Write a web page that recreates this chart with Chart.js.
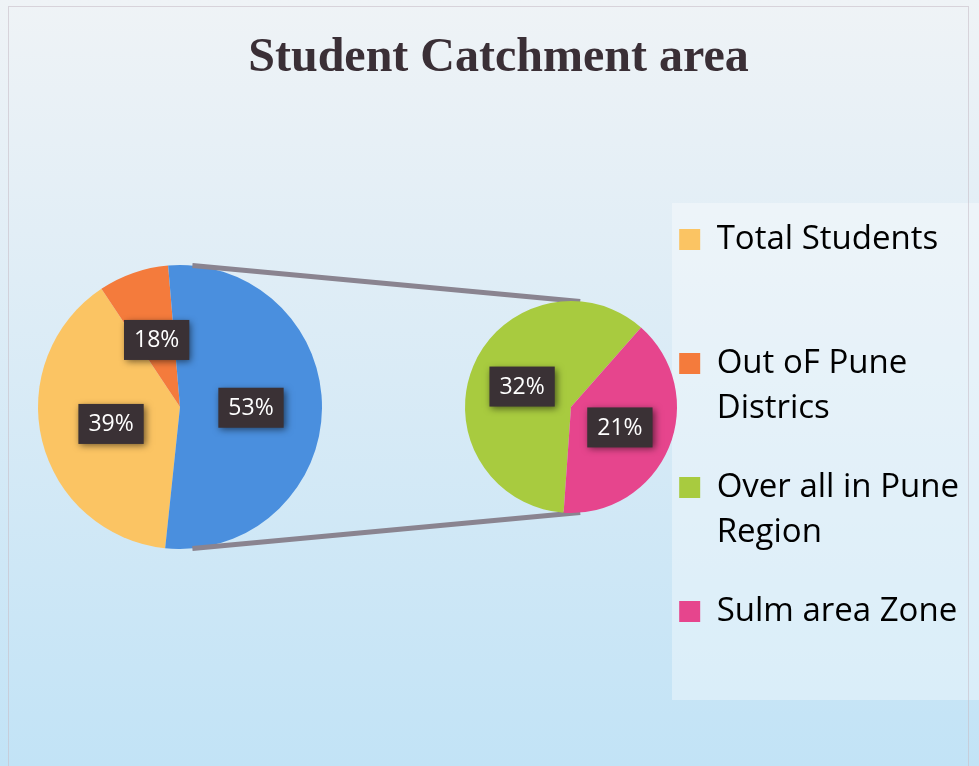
<!DOCTYPE html>
<html><head><meta charset="utf-8">
<script src="https://cdn.jsdelivr.net/npm/chart.js@4.4.1/dist/chart.umd.min.js"></script>
<style>
html,body{margin:0;padding:0;background:#fff;overflow:hidden}
#wrap{position:relative;width:979px;height:766px}
#wrap canvas{position:absolute;left:0;top:0}
</style></head><body>
<div id="wrap">
<canvas id="cBase" width="979" height="766"></canvas>
<canvas id="cLeft" width="979" height="766"></canvas>
<canvas id="cRight" width="979" height="766"></canvas>
</div>
<script>
// ---- data ----
const titleText = 'Student Catchment area';
const mainCategories = ['Total Students', 'Out oF Pune Districs', 'Other'];
const mainValues = [39, 8, 53];
const mainLabelText = ['39%', '18%', '53%'];
const subCategories = ['Over all in Pune Region', 'Sulm area Zone'];
const subValues = [32, 21];
const subLabelText = ['32%', '21%'];
const legendLines = [['Total Students', ''], ['Out oF Pune', 'Districs'], ['Over all in Pune', 'Region'], ['Sulm area Zone', '']];

// ---- styles ----
const mainColors = ['#fbc463', '#f47b3c', '#4a8fde'];
const subColors = ['#a8cb3f', '#e6458d'];
const legendColors = [mainColors[0], mainColors[1], subColors[0], subColors[1]];

const background = {
  id: 'background',
  beforeDraw(chart) {
    const {ctx, width, height} = chart;
    ctx.save();
    const g = ctx.createLinearGradient(0, 0, 0, height);
    g.addColorStop(0, '#eff3f6');
    g.addColorStop(0.3, '#e2eef6');
    g.addColorStop(1, '#c2e3f6');
    ctx.fillStyle = g;
    ctx.fillRect(0, 0, width, height);
    ctx.fillStyle = 'rgba(255,255,255,0.35)';
    ctx.fillRect(672, 203, width - 672, 497);
    ctx.strokeStyle = 'rgba(200,190,200,0.6)';
    ctx.lineWidth = 1;
    ctx.strokeRect(8.5, 6.5, 960, 770);
    ctx.restore();
  }
};

const boxLabels = {
  id: 'boxLabels',
  afterDatasetsDraw(chart, args, opts) {
    const ctx = chart.ctx;
    const meta = chart.getDatasetMeta(0);
    ctx.save();
    ctx.font = '23px "Open Sans", sans-serif';
    ctx.textAlign = 'center';
    ctx.textBaseline = 'middle';
    meta.data.forEach((arc, i) => {
      const p = arc.tooltipPosition();
      const t = opts.texts[i];
      const w = ctx.measureText(t).width + 20, h = 40;
      ctx.save();
      ctx.shadowColor = 'rgba(0,0,0,0.55)';
      ctx.shadowBlur = 7;
      ctx.shadowOffsetX = 2;
      ctx.shadowOffsetY = 2;
      ctx.fillStyle = '#3a3135';
      ctx.fillRect(p.x - w / 2, p.y - h / 2, w, h);
      ctx.restore();
      ctx.fillStyle = '#ffffff';
      ctx.fillText(t, p.x, p.y + 1);
    });
    ctx.restore();
  }
};

let leftChart = null;
const connectors = {
  id: 'connectors',
  beforeDatasetsDraw(chart) {
    if (!leftChart) return;
    const a = leftChart.getDatasetMeta(0).data[0];
    const b = chart.getDatasetMeta(0).data[0];
    const ctx = chart.ctx;
    ctx.save();
    ctx.strokeStyle = '#8a8490';
    ctx.lineWidth = 5;
    [5, 175].forEach(d => {
      const t = d * Math.PI / 180;
      ctx.beginPath();
      ctx.moveTo(a.x + a.outerRadius * Math.sin(t), a.y - a.outerRadius * Math.cos(t));
      ctx.lineTo(b.x + b.outerRadius * Math.sin(t), b.y - b.outerRadius * Math.cos(t));
      ctx.stroke();
    });
    ctx.restore();
  }
};

new Chart(document.getElementById('cBase'), {
  type: 'pie',
  data: { labels: [], datasets: [] },
  options: {
    responsive: false, animation: false, events: [],
    layout: { padding: { left: 28, right: 10, top: 0, bottom: 0 } },
    plugins: {
      title: {
        display: true, text: titleText, color: '#3a2f36',
        font: { family: '"Liberation Serif", "Times New Roman", serif', size: 48, weight: 'bold' },
        padding: { top: 30, bottom: 101.4 }
      },
      legend: {
        display: true, position: 'right', align: 'start', fullSize: false,
        labels: {
          boxWidth: 21, boxHeight: 21, padding: 34, color: '#3b3640',
          font: { family: '"Open Sans", sans-serif', size: 33, lineHeight: 1.3636 },
          generateLabels: () => legendLines.map((t, i) => ({
            text: t, fillStyle: legendColors[i], strokeStyle: legendColors[i], lineWidth: 0, hidden: false, index: i
          }))
        }
      },
      tooltip: { enabled: false }
    }
  },
  plugins: [background]
});

leftChart = new Chart(document.getElementById('cLeft'), {
  type: 'pie',
  data: { labels: mainCategories, datasets: [{ data: mainValues, backgroundColor: mainColors, borderWidth: 0 }] },
  options: {
    responsive: false, animation: false, events: [], rotation: 186,
    layout: { padding: { left: 38, right: 657, top: 265, bottom: 217 } },
    plugins: { legend: { display: false }, title: { display: false }, tooltip: { enabled: false }, boxLabels: { texts: mainLabelText } }
  },
  plugins: [boxLabels]
});

new Chart(document.getElementById('cRight'), {
  type: 'pie',
  data: { labels: subCategories, datasets: [{ data: subValues, backgroundColor: subColors, borderWidth: 0 }] },
  options: {
    responsive: false, animation: false, events: [], rotation: 184,
    layout: { padding: { left: 465, right: 302, top: 301, bottom: 253 } },
    plugins: { legend: { display: false }, title: { display: false }, tooltip: { enabled: false }, boxLabels: { texts: subLabelText } }
  },
  plugins: [connectors, boxLabels]
});
</script>
</body></html>
